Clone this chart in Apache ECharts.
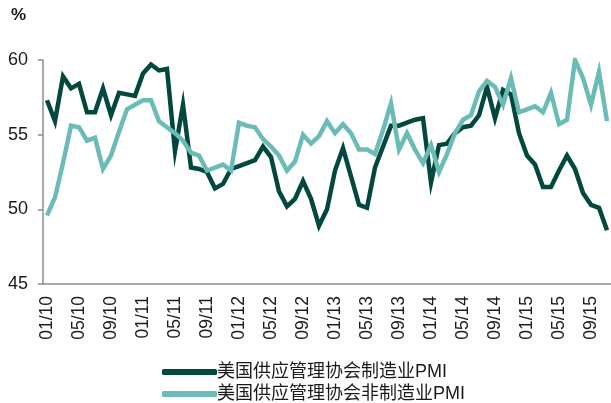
<!DOCTYPE html>
<html>
<head>
<meta charset="utf-8">
<script src="https://cdn.jsdelivr.net/npm/echarts@6/dist/echarts.min.js"></script>
<style>
html,body{margin:0;padding:0;background:#fff;}
#chart{width:611px;height:403px;}
</style>
</head>
<body>
<div id="chart"></div>
<script>
// Monthly categories 01/10 .. 11/15
var categories = [];
var years = ['10','11','12','13','14','15'];
for (var y = 0; y < years.length; y++) {
  for (var m = 1; m <= 12; m++) {
    if (years[y] === '15' && m > 11) break;
    categories.push((m < 10 ? '0' + m : '' + m) + '/' + years[y]);
  }
}

var seriesNames = ['美国供应管理协会制造业PMI', '美国供应管理协会非制造业PMI'];

var manufacturing = [
  57.3, 55.9, 58.9, 58.1, 58.4, 56.5, 56.5, 58.1, 56.3, 57.8, 57.7, 57.6,
  59.1, 59.7, 59.3, 59.4, 53.9, 57.0, 52.8, 52.7, 52.5, 51.4, 51.7, 52.7,
  52.9, 53.1, 53.3, 54.2, 53.5, 51.2, 50.2, 50.7, 51.9, 50.7, 48.9, 50.0,
  52.6, 54.1, 52.2, 50.3, 50.1, 52.8, 54.2, 55.6, 55.6, 55.8, 56.0, 56.1,
  51.8, 54.3, 54.4, 55.1, 55.5, 55.6, 56.3, 58.2, 56.1, 58.0, 57.7, 55.1,
  53.6, 53.0, 51.5, 51.5, 52.6, 53.6, 52.7, 51.1, 50.3, 50.1, 48.6
];

var nonManufacturing = [
  49.6, 50.8, 53.1, 55.6, 55.5, 54.6, 54.8, 52.7, 53.6, 55.2, 56.7, 57.0,
  57.3, 57.3, 55.9, 55.5, 55.1, 54.6, 53.8, 53.6, 52.6, 52.8, 53.0, 52.6,
  55.8, 55.6, 55.5, 54.7, 54.2, 53.6, 52.6, 53.2, 55.0, 54.4, 54.9, 55.9,
  55.1, 55.7, 55.1, 54.0, 54.0, 53.7, 55.3, 57.1, 54.0, 55.1, 54.0, 53.1,
  54.3, 52.5, 53.7, 55.1, 56.0, 56.3, 57.9, 58.6, 58.2, 57.0, 58.8, 56.5,
  56.7, 56.9, 56.5, 57.8, 55.7, 56.0, 60.0, 58.8, 57.0, 59.2, 55.9
];

var yTicks = { min: 45, max: 60, interval: 5 };
var unitLabel = '%';

var chart = echarts.init(document.getElementById('chart'), null, { renderer: 'canvas' });
var fontFam = '"Liberation Sans", Arial, "Noto Sans CJK SC", sans-serif';
chart.setOption({
  animation: false,
  backgroundColor: '#ffffff',
  textStyle: { fontFamily: fontFam },
  graphic: [{
    type: 'text', left: 11, top: 7,
    style: { text: unitLabel, font: 'bold 17px ' + fontFam, fill: '#1a1a1a' }
  }],
  grid: { left: 43, right: 0, top: 60, bottom: 119, containLabel: false },
  legend: {
    orient: 'vertical',
    left: 157, top: 358, height: 60,
    itemWidth: 55, itemHeight: 6, itemGap: 4,
    icon: 'roundRect',
    textStyle: { fontSize: 18, color: '#1a1a1a', fontFamily: fontFam, padding: [0, 0, 0, -5] },
    data: seriesNames
  },
  xAxis: {
    type: 'category',
    data: categories,
    boundaryGap: true,
    axisLine: { lineStyle: { color: '#8c8c8c', width: 1.5 } },
    axisTick: { interval: 3, length: 6, lineStyle: { color: '#8c8c8c', width: 1.5 } },
    axisLabel: { interval: 3, rotate: 90, fontSize: 17.5, color: '#1a1a1a', margin: 12, fontFamily: fontFam }
  },
  yAxis: {
    type: 'value',
    min: yTicks.min, max: yTicks.max, interval: yTicks.interval,
    splitLine: { show: false },
    axisLine: { show: true, lineStyle: { color: '#8c8c8c', width: 1.5 } },
    axisTick: { show: true, length: 5, lineStyle: { color: '#8c8c8c', width: 1.5 } },
    axisLabel: { fontSize: 18, color: '#1a1a1a', margin: 15, fontFamily: fontFam }
  },
  series: [
    {
      name: seriesNames[0], type: 'line', data: manufacturing,
      symbol: 'none', smooth: false,
      lineStyle: { color: '#02483e', width: 4.5, join: 'miter' },
      itemStyle: { color: '#02483e' }
    },
    {
      name: seriesNames[1], type: 'line', data: nonManufacturing,
      symbol: 'none', smooth: false,
      lineStyle: { color: '#6bbcb7', width: 4.5, join: 'miter' },
      itemStyle: { color: '#6bbcb7' }
    }
  ]
});
</script>
</body>
</html>
